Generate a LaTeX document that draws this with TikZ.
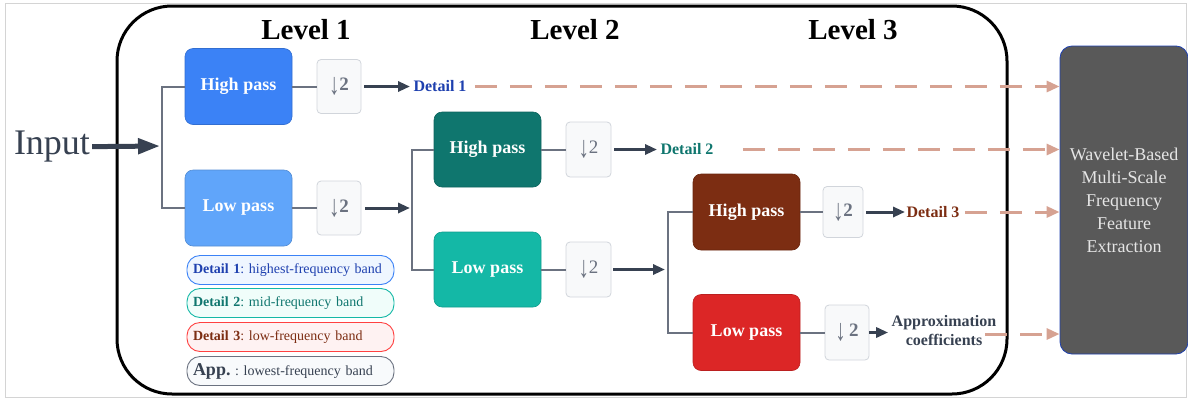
\documentclass[tikz,border=0pt]{standalone}
\usepackage{fontspec}
\setmainfont{Liberation Serif}
\usetikzlibrary{arrows.meta}
\frenchspacing
\definecolor{slate}{HTML}{374151}
\definecolor{conng}{HTML}{6B7280}
\definecolor{hpone}{HTML}{3B82F6}
\definecolor{lpone}{HTML}{60A5FA}
\definecolor{hptwo}{HTML}{0F766E}
\definecolor{lptwo}{HTML}{14B8A6}
\definecolor{hpthree}{HTML}{7C2D12}
\definecolor{lpthree}{HTML}{DC2626}
\definecolor{dsfill}{HTML}{F8F9FA}
\definecolor{dsdraw}{HTML}{D1D5DB}
\definecolor{dblue}{HTML}{1E40AF}
\definecolor{salmon}{HTML}{D6A292}
\definecolor{febox}{HTML}{595959}
\definecolor{legbf}{HTML}{EFF6FF}
\definecolor{legtf}{HTML}{F0FDFA}
\definecolor{legrf}{HTML}{FEF2F2}
\definecolor{leggf}{HTML}{F8FAFC}
\definecolor{frameg}{HTML}{D4D4D4}
\newcommand{\dnarr}{\raisebox{-4pt}{\scalebox{1.1}[1.6]{↓}}}
\tikzset{
  filt/.style={rounded corners=8pt, minimum width=107pt, minimum height=76pt,
    fill=#1, draw=#1!85!black, line width=0.6pt, text=white,
    font=\bfseries\fontsize{18}{20}\selectfont},
  dsbox/.style={rounded corners=4pt, minimum width=44pt, minimum height=54pt,
    fill=dsfill, draw=dsdraw, line width=0.8pt, text=conng, inner sep=0pt,
    font=\fontsize{19}{20}\selectfont},
  conn/.style={draw=conng, line width=2pt},
  arr/.style={draw=slate, line width=3pt, -{Triangle[length=12pt,width=10pt]}},
  bigarr/.style={draw=slate, line width=5pt, -{Triangle[length=22pt,width=15pt]}},
  darr/.style={draw=salmon, line width=3pt, dash pattern=on 22pt off 13pt,
    -{Triangle[length=13pt,width=11pt]}},
  lvl/.style={font=\bfseries\fontsize{29}{30}\selectfont},
  det/.style={font=\bfseries\fontsize{16}{17}\selectfont},
  leg/.style 2 args={rounded corners=13pt, minimum width=207pt, minimum height=29pt,
    text width=195pt, align=left, inner xsep=6pt, inner ysep=0pt, draw=#1, fill=#2,
    line width=0.9pt, font=\fontsize{14}{15}\selectfont},
}
\begin{document}
\begin{tikzpicture}[x=1pt,y=-1pt]
\useasboundingbox (0,0) rectangle (1188,400);
\draw[frameg, line width=0.8pt] (5,3) rectangle (1186,397);
\draw[line width=3pt, rounded corners=55pt] (117,6) rectangle (1007,394);

% level titles
\node[lvl] (L1) at (306,30) {Level 1};
\node[lvl] (L2) at (575,30) {Level 2};
\node[lvl] (L3) at (853,30) {Level 3};

% input
\node[text=slate, font=\fontsize{36}{38}\selectfont, inner sep=2pt] (in) at (52,147) {Input};
\coordinate (b1) at (162,146);
\coordinate (b2) at (412,208);
\coordinate (b3) at (668,269.5);

% level 1
\node[filt=hpone] (hp1) at (238.5,86.5) {High pass};
\node[filt=lpone] (lp1) at (238.5,208) {Low pass};
\node[dsbox] (ds1) at (339,86.5) {\dnarr\textbf{2}};
\node[dsbox] (ds2) at (339,208) {\dnarr\textbf{2}};
\node[det, text=dblue] (d1) at (440,86.5) {Detail 1};

% level 2
\node[filt=hptwo, minimum height=75pt] (hp2) at (487.5,149.5) {High pass};
\node[filt=lptwo, minimum height=75pt] (lp2) at (487.5,269.5) {Low pass};
\node[dsbox, minimum width=45pt, minimum height=55pt] (ds3) at (588.5,149.5) {\dnarr2};
\node[dsbox, minimum width=45pt, minimum height=55pt] (ds4) at (588.5,269.5) {\dnarr2};
\node[det, text=hptwo] (d2) at (687,149.5) {Detail 2};

% level 3
\node[filt=hpthree] (hp3) at (746.5,212) {High pass};
\node[filt=lpthree] (lp3) at (746.5,332.5) {Low pass};
\node[dsbox, minimum width=40pt, minimum height=51pt] (ds5) at (843,212) {\dnarr\textbf{2}};
\node[dsbox, minimum height=55pt] (ds6) at (847,332.5) {\dnarr\,\textbf{2}};
\node[det, text=hpthree] (d3) at (933,212) {Detail 3};
\node[det, text=slate, align=center, font=\bfseries\fontsize{16}{19}\selectfont] (ap) at (944,331) {Approximation\\coefficients};
\coordinate (apend) at (985,334);

% right box
\node[rounded corners=12pt, fill=febox, draw=dblue, line width=0.8pt,
  minimum width=128pt, minimum height=308pt, text=white!90!black, align=center,
  font=\fontsize{18}{23}\selectfont] (fe) at (1124,200)
  {Wavelet-Based\\Multi-Scale\\Frequency\\Feature\\Extraction};

% connectors
\draw[bigarr, shorten >=2pt] (in) -- (b1);
\draw[conn] (b1) |- (hp1);
\draw[conn] (b1) |- (lp1);
\draw[conn] (hp1) -- (ds1);
\draw[conn] (lp1) -- (ds2);
\draw[arr, shorten <=3pt] (ds1) -- (d1);
\draw[arr, shorten <=4pt, shorten >=2pt] (ds2) -- (b2);

\draw[conn] (b2) |- (hp2);
\draw[conn] (b2) |- (lp2);
\draw[conn] (hp2) -- (ds3);
\draw[conn] (lp2) -- (ds4);
\draw[arr, shorten <=3pt] (ds3) -- (d2);
\draw[arr, shorten <=2pt, shorten >=3pt] (ds4) -- (b3);

\draw[conn] (b3) |- (hp3);
\draw[conn] (b3) |- (lp3);
\draw[conn] (hp3) -- (ds5);
\draw[conn] (lp3) -- (ds6);
\draw[arr, shorten <=3pt, shorten >=-2pt] (ds5) -- (d3);
\draw[arr, shorten <=0pt] (ds6.east) -- (ap.west |- ds6.east);

\draw[darr, shorten <=5pt] (d1.east) -- (d1.east -| fe.west);
\draw[darr, shorten <=26pt] (d2.east) -- (d2.east -| fe.west);
\draw[darr, shorten <=2pt] (d3.east) -- (d3.east -| fe.west);
\draw[darr] (apend) -- (apend -| fe.west);

% legend
\node[leg={hpone}{legbf}, text=dblue] (g1) at (290.5,270) {\textbf{Detail 1}: highest-frequency band};
\node[leg={lptwo}{legtf}, text=hptwo] (g2) at (290.5,303) {\textbf{Detail 2}: mid-frequency band};
\node[leg={red!75!white}{legrf}, text=hpthree] (g3) at (290.5,337) {\textbf{Detail 3}: low-frequency band};
\node[leg={conng}{leggf}, text=slate] (g4) at (290.5,371) {{\bfseries\fontsize{18}{18}\selectfont App.} : lowest-frequency band};
\end{tikzpicture}
\end{document}
